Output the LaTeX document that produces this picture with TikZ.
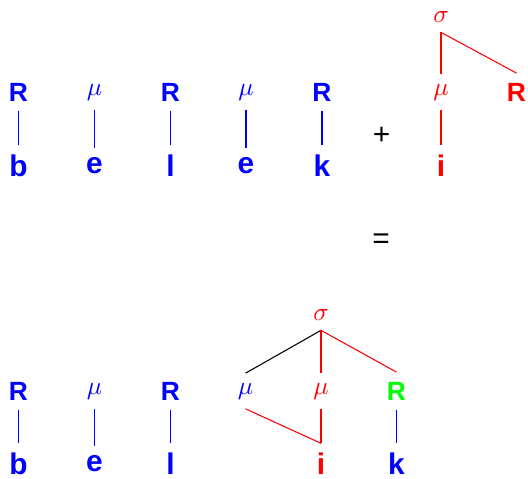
\documentclass[tikz,border=0pt]{standalone}
\usepackage{fontspec}
\usepackage{graphicx}
\setsansfont{Liberation Sans}

\definecolor{segblue}{RGB}{0,0,255}
\definecolor{segred}{RGB}{255,0,0}
\definecolor{seggreen}{RGB}{0,255,0}

\newcommand{\moramu}{\scalebox{1.45}{$\mu$}}
\newcommand{\sylsig}{\scalebox{1.45}{$\sigma$}}

\tikzset{
  seg/.style={inner sep=5.4pt, font=\sffamily\bfseries\fontsize{15}{18}\selectfont},
  letter/.style={inner sep=5.4pt, font=\sffamily\bfseries\fontsize{17}{20}\selectfont},
  mora/.style={inner sep=5.4pt},
  sign/.style={inner sep=0pt, font=\sffamily\fontsize{17}{20}\selectfont},
  link/.style={line width=0.6pt}
}

\begin{document}
\begin{tikzpicture}[x=0.02cm, y=-0.02cm]

    \useasboundingbox (0,0) rectangle (528,478);

    % obere Zeile
    \node[seg, text=segblue] (r1) at (18.5,92) {R};
    \node[mora, text=segblue] (m1) at (94.5,92) {\moramu};
    \node[seg, text=segblue] (r2) at (170.5,92) {R};
    \node[mora, text=segblue] (m2) at (246,92) {\moramu};
    \node[seg, text=segblue] (r3) at (322,92) {R};

    \node[letter, text=segblue] (b1) at (18.5,166) {b};
    \node[letter, text=segblue] (e1) at (94.5,166) {e};
    \node[letter, text=segblue] (l1) at (170.5,166) {l};
    \node[letter, text=segblue] (e2) at (246,166) {e};
    \node[letter, text=segblue] (k1) at (322,166) {k};

    \draw[link, segblue] (r1) -- (b1);
    \draw[link, segblue] (m1) -- (e1);
    \draw[link, segblue] (r2) -- (l1);
    \draw[link, segblue] (m2) -- (e2);
    \draw[link, segblue] (r3) -- (k1);

    % Affix
    \node[sign] (plus) at (381.5,136) {+};
    \node[mora, text=segred] (s1) at (441,17) {\sylsig};
    \node[mora, text=segred] (m3) at (441,92) {\moramu};
    \node[seg, text=segred] (r4) at (516.5,92) {R};
    \node[letter, text=segred] (i1) at (441,166) {i};

    \draw[link, segred] (s1.south) -- (m3.north);
    \draw[link, segred] (s1.south) -- (r4.north);
    \draw[link, segred] (m3) -- (i1);

    \node[sign] (eq) at (381,241) {=};

    % Ergebnis
    \node[seg, text=segblue] (r5) at (18.5,391) {R};
    \node[mora, text=segblue] (m4) at (94.5,391) {\moramu};
    \node[seg, text=segblue] (r6) at (170.5,391) {R};
    \node[mora, text=segblue] (m5) at (245.5,391) {\moramu};
    \node[mora, text=segred] (m6) at (321,391) {\moramu};
    \node[seg, text=seggreen] (r7) at (396.5,391) {R};
    \node[mora, text=segred] (s2) at (321,315) {\sylsig};

    \node[letter, text=segblue] (b2) at (18.5,464) {b};
    \node[letter, text=segblue] (e3) at (94.5,464) {e};
    \node[letter, text=segblue] (l2) at (170.5,464) {l};
    \node[letter, text=segred] (i2) at (321,464) {i};
    \node[letter, text=segblue] (k2) at (396.5,464) {k};

    \draw[link, segblue] (r5) -- (b2);
    \draw[link, segblue] (m4) -- (e3);
    \draw[link, segblue] (r6) -- (l2);

    \draw[link, black] (s2.south) -- (m5.north);
    \draw[link, segred] (s2.south) -- (m6.north);
    \draw[link, segred] (s2.south) -- (r7.north);
    \draw[link, segred] (m5.south) -- (i2.north);
    \draw[link, segred] (m6) -- (i2);
    \draw[link, segblue] (r7) -- (k2);

\end{tikzpicture}
\end{document}
